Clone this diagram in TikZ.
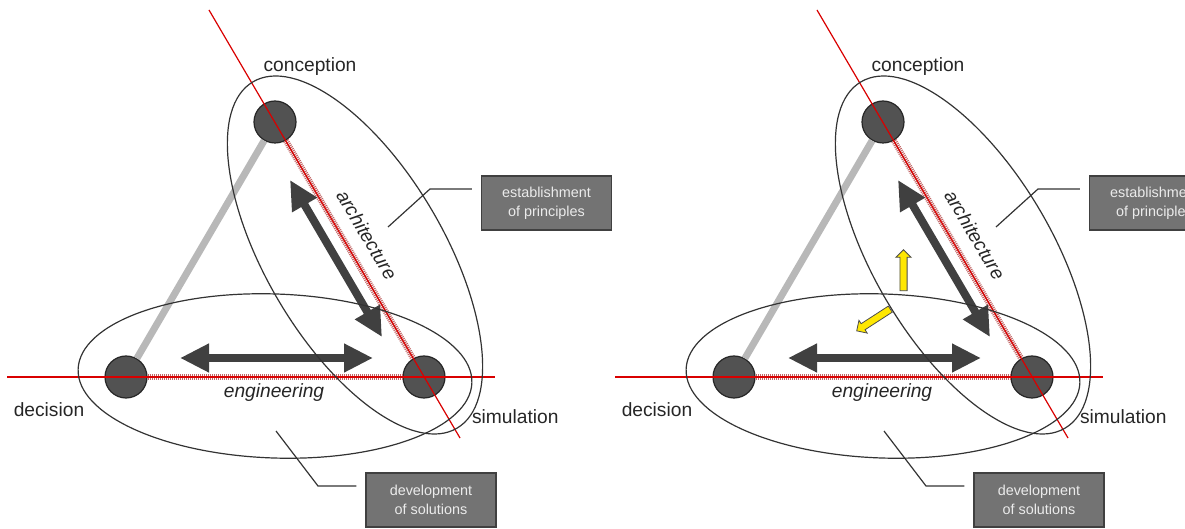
\documentclass[tikz,border=0pt]{standalone}
\usepackage{fontspec}
\setmainfont{Liberation Sans}
\usepackage{tikz}
\usetikzlibrary{positioning, arrows.meta, shapes.arrows}

\tikzset{
    stage/.style={circle, minimum size=21pt, inner sep=0pt, fill=black!68, draw=black!85, line width=0.6pt},
    axisline/.style={red!85!black, line width=0.6pt},
    hatchband/.style={line width=3pt, black!40!red!60, dash pattern=on 0.5pt off 0.5pt},
    greyband/.style={line width=3.5pt, black!28},
    fatarrow/.style={black!75, line width=4pt, {Triangle[width=13.5pt,length=14.5pt]}-{Triangle[width=13.5pt,length=14.5pt]}},
    hull/.style={black!80, line width=0.6pt},
    caption/.style={font=\fontsize{9.6}{11}\selectfont, text=black!85},
    infobox/.style={fill=black!55, draw=black!75, line width=0.6pt, minimum width=65pt, minimum height=27pt,
        inner sep=1pt, align=center, font=\fontsize{7.2}{9.5}\selectfont, text=black!8},
    growth/.style={single arrow, draw=black!70, fill=yellow!90!orange, inner sep=1.6pt,
        single arrow head extend=2pt, minimum height=20.5pt, line width=0.4pt},
}

\begin{document}
\begin{tikzpicture}[x=0.5pt, y=-0.5pt]
    \useasboundingbox (0,0) rectangle (1185,529);
    \foreach \p/\dx in {l/0, r/608}
    {
        \begin{scope}[shift={(\dx,0)}]
            \node[stage] (con\p) at (275,122) {};
            \node[stage] (dec\p) at (126,377) {};
            \node[stage] (sim\p) at (424,377) {};
            \draw[greyband] (con\p) -- (dec\p);
            \draw[hatchband] (con\p) -- (sim\p);
            \draw[hatchband] (dec\p) -- (sim\p);
            \coordinate (top\p) at (209,10);
            \coordinate (foot\p) at (460,438);
            \coordinate (west\p) at (7,377);
            \coordinate (east\p) at (495,377);
            \draw[axisline] (top\p) -- (foot\p);
            \draw[axisline] (west\p) -- (east\p);
            \coordinate (archa\p) at (290,180);
            \coordinate (archb\p) at (382,337);
            \coordinate (enga\p) at (180,358);
            \coordinate (engb\p) at (373,358);
            \draw[fatarrow] (archa\p) -- (archb\p);
            \draw[fatarrow] (enga\p) -- (engb\p);
            \draw[hull, rotate around={-59.5:(355,255)}] (355,255) ellipse [x radius=201, y radius=89];
            \draw[hull, rotate around={-2:(275,376)}] (275,376) ellipse [x radius=197, y radius=82];
            \node[caption] (lblcon\p) at (310,67) {conception};
            \node[caption] (lbldec\p) at (49,410) {decision};
            \node[caption, anchor=west] (lblsim\p) at (465,417) {simulation};
            \node[caption] (lbleng\p) at (274,393) {\itshape engineering};
            \node[caption, rotate=-59.5] (lblarc\p) at (367,235) {\itshape architecture};
            \node[infobox] (est\p) at (546.5,203) {establishment\\of principles};
            \node[infobox] (dev\p) at (431,500) {development\\of solutions};
            \coordinate (estfoot\p) at (388,227);
            \coordinate (devfoot\p) at (276,431);
            \draw[hull] (estfoot\p) -- (430,189) -- ([shift={(-9,-14)}]est\p.west);
            \draw[hull] (devfoot\p) -- (318,486) -- ([shift={(-9,-14)}]dev\p.west);
        \end{scope}
    }
    \node[growth, rotate=90] (growup) at (903.5,272) {};
    \node[growth, rotate=212.9, minimum height=20pt] (growside) at (875,319) {};
\end{tikzpicture}
\end{document}
